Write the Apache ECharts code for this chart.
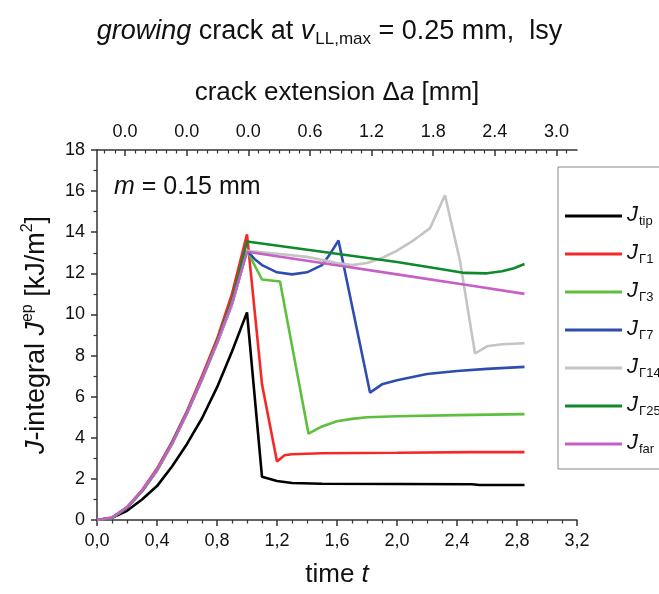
<!DOCTYPE html>
<html>
<head>
    <meta charset="utf-8" />
    <title>J-integral, growing crack</title>
    <script src="https://cdn.jsdelivr.net/npm/echarts@6/dist/echarts.min.js"></script>
    <style>
        html, body { margin: 0; padding: 0; background: #fff; }
        #divChart { width: 659px; height: 594px; }
    </style>
</head>
<body>
    <div id="divChart"></div>
    <script>
        // tick labels
        let xTickLabels = ['0,0', '0,4', '0,8', '1,2', '1,6', '2,0', '2,4', '2,8', '3,2'];
        // crack extension axis (top): tick positions in time units + labels
        let topTickT = [0.187, 0.598, 1.009, 1.42, 1.83, 2.241, 2.652, 3.063];
        let topTickLabels = ['0.0', '0.0', '0.0', '0.6', '1.2', '1.8', '2.4', '3.0'];

        // J_tip
        let tTip = [0, 0.1, 0.2, 0.3, 0.4, 0.5, 0.6, 0.7, 0.8, 0.9, 1.0, 1.1, 1.2, 1.3, 1.5, 2.0, 2.5, 2.55, 2.85];
        let jTip = [0, 0.1, 0.45, 1.0, 1.65, 2.6, 3.7, 4.95, 6.45, 8.2, 10.1, 2.1, 1.9, 1.8, 1.76, 1.75, 1.74, 1.7, 1.7];
        // J_G1
        let tG1 = [0, 0.1, 0.2, 0.3, 0.4, 0.5, 0.6, 0.7, 0.8, 0.9, 1.0, 1.1, 1.2, 1.25, 1.3, 1.5, 2.0, 2.5, 2.85];
        let jG1 = [0, 0.12, 0.62, 1.45, 2.5, 3.8, 5.3, 7.0, 8.8, 11.0, 13.9, 6.6, 2.85, 3.15, 3.2, 3.25, 3.27, 3.3, 3.3];
        // J_G3
        let tG3 = [0, 0.1, 0.2, 0.3, 0.4, 0.5, 0.6, 0.7, 0.8, 0.9, 1.0, 1.1, 1.22, 1.41, 1.5, 1.6, 1.7, 1.8, 2.0, 2.4, 2.85];
        let jG3 = [0, 0.1, 0.6, 1.4, 2.4, 3.7, 5.2, 6.85, 8.6, 10.5, 13.1, 11.7, 11.6, 4.2, 4.55, 4.8, 4.92, 5.0, 5.05, 5.1, 5.15];
        // J_G7
        let tG7 = [0, 0.1, 0.2, 0.3, 0.4, 0.5, 0.6, 0.7, 0.8, 0.9, 1.0, 1.05, 1.1, 1.2, 1.3, 1.4, 1.5, 1.55, 1.61, 1.82, 1.9, 2.0, 2.2, 2.4, 2.6, 2.85];
        let jG7 = [0, 0.1, 0.6, 1.4, 2.4, 3.7, 5.2, 6.85, 8.6, 10.5, 13.1, 12.7, 12.4, 12.05, 11.95, 12.05, 12.4, 12.9, 13.6, 6.2, 6.6, 6.8, 7.1, 7.25, 7.35, 7.45];
        // J_G14
        let tG14 = [0, 0.1, 0.2, 0.3, 0.4, 0.5, 0.6, 0.7, 0.8, 0.9, 1.0, 1.2, 1.4, 1.6, 1.7, 1.8, 1.9, 2.0, 2.1, 2.22, 2.32, 2.42, 2.52, 2.6, 2.7, 2.85];
        let jG14 = [0, 0.1, 0.6, 1.4, 2.4, 3.7, 5.2, 6.85, 8.6, 10.5, 13.1, 12.95, 12.8, 12.5, 12.4, 12.5, 12.75, 13.1, 13.55, 14.2, 15.8, 12.6, 8.1, 8.45, 8.55, 8.6];
        // J_G25
        let tG25 = [0, 0.1, 0.2, 0.3, 0.4, 0.5, 0.6, 0.7, 0.8, 0.9, 1.0, 1.5, 2.0, 2.3, 2.45, 2.6, 2.7, 2.78, 2.85];
        let jG25 = [0, 0.1, 0.6, 1.4, 2.45, 3.75, 5.25, 6.9, 8.7, 10.7, 13.55, 13.05, 12.55, 12.2, 12.02, 12.0, 12.1, 12.25, 12.45];
        // J_far
        let tFar = [0, 0.1, 0.2, 0.3, 0.4, 0.5, 0.6, 0.7, 0.8, 0.9, 1.0, 1.5, 2.0, 2.5, 2.85];
        let jFar = [0, 0.12, 0.62, 1.42, 2.45, 3.72, 5.22, 6.88, 8.62, 10.55, 13.05, 12.5, 11.95, 11.4, 11.0];

        let seriesNames = ['tip', 'Γ1', 'Γ3', 'Γ7', 'Γ14', 'Γ25', 'far'];
        let seriesColors = ['#000000', '#f52828', '#5dbf3d', '#2f4db0', '#c4c4c4', '#0e8a2c', '#c660c6'];
        let seriesT = [tTip, tG1, tG3, tG7, tG14, tG25, tFar];
        let seriesJ = [jTip, jG1, jG3, jG7, jG14, jG25, jFar];

        let font = "'Liberation Sans', Arial, sans-serif";
        let axisColor = '#333';

        // minor ticks of the top axis: 5 between the labelled ticks
        let topMinorT = [];
        let step = (topTickT[1] - topTickT[0]) / 6;
        for (let v = topTickT[0] - step; v > 0; v -= step) topMinorT.push(v);
        for (let i = 0; i < topTickT.length; i++) {
            for (let k = 1; k < 6; k++) {
                let v = topTickT[i] + k * step;
                if (v < 3.2) topMinorT.push(v);
            }
        }

        function InitChart() {
            let series = seriesNames.map(function (n, i) {
                return {
                    name: n,
                    type: 'line',
                    xAxisIndex: 0,
                    symbol: 'none',
                    showSymbol: false,
                    lineStyle: { width: 2.6, color: seriesColors[i] },
                    itemStyle: { color: seriesColors[i] },
                    data: seriesT[i].map(function (t, k) { return [t, seriesJ[i][k]]; })
                };
            });

            let option = {
                backgroundColor: '#fff',
                animation: false,
                textStyle: { fontFamily: font, color: '#111' },
                title: {
                    left: 'center',
                    top: 13,
                    text: '{i|growing}{n| crack at }{i|v}{s|LL,max}{n| = 0.25 mm,  lsy}',
                    textStyle: {
                        fontFamily: font,
                        fontWeight: 'normal',
                        rich: {
                            n: { fontFamily: font, fontSize: 27, color: '#111', lineHeight: 30, verticalAlign: 'top' },
                            i: { fontFamily: font, fontSize: 27, color: '#111', fontStyle: 'italic', lineHeight: 30, verticalAlign: 'top' },
                            s: { fontFamily: font, fontSize: 17, color: '#111', lineHeight: 18, padding: [17, 0, 0, 1], verticalAlign: 'bottom' }
                        }
                    }
                },
                grid: { left: 97, top: 150, width: 480, height: 370 },
                legend: {
                    orient: 'vertical',
                    left: 558,
                    top: 167,
                    padding: [30, 60, 13, 7],
                    icon: 'rect',
                    itemWidth: 57,
                    itemHeight: 3,
                    itemGap: 7,
                    backgroundColor: '#fff',
                    borderColor: '#888',
                    borderWidth: 1,
                    data: seriesNames,
                    formatter: function (n) { return '{j|J}{s|' + n + '}'; },
                    textStyle: {
                        rich: {
                            j: { fontFamily: font, fontSize: 22, fontStyle: 'italic', color: '#111', lineHeight: 24, verticalAlign: 'top' },
                            s: { fontFamily: font, fontSize: 13, color: '#111', lineHeight: 14, padding: [18, 0, 0, 1], verticalAlign: 'bottom' }
                        }
                    }
                },
                xAxis: [{
                    type: 'value',
                    position: 'bottom',
                    min: 0,
                    max: 3.2,
                    interval: 0.4,
                    name: '{n|time }{i|t}',
                    nameLocation: 'middle',
                    nameGap: 42,
                    nameTextStyle: {
                        rich: {
                            n: { fontFamily: font, fontSize: 26, color: '#111' },
                            i: { fontFamily: font, fontSize: 26, color: '#111', fontStyle: 'italic' }
                        }
                    },
                    axisLine: { lineStyle: { color: axisColor, width: 1.5 } },
                    axisTick: { length: 6, lineStyle: { color: axisColor, width: 1.5 } },
                    minorTick: { show: true, splitNumber: 4, length: 3.5, lineStyle: { color: axisColor, width: 1.2 } },
                    splitLine: { show: false },
                    axisLabel: {
                        margin: 12,
                        fontSize: 18,
                        color: '#111',
                        fontFamily: font,
                        formatter: function (v) { return xTickLabels[Math.round(v / 0.4)]; }
                    }
                }, {
                    type: 'value',
                    position: 'top',
                    min: 0,
                    max: 3.2,
                    name: '{n|crack extension Δ}{i|a}{n| [mm]}',
                    nameLocation: 'middle',
                    nameGap: 44,
                    nameTextStyle: {
                        rich: {
                            n: { fontFamily: font, fontSize: 26, color: '#111' },
                            i: { fontFamily: font, fontSize: 26, color: '#111', fontStyle: 'italic' }
                        }
                    },
                    axisLine: { lineStyle: { color: axisColor, width: 1.5 } },
                    axisTick: { inside: true, length: 6, customValues: topTickT, lineStyle: { color: axisColor, width: 1.5 } },
                    splitLine: { show: false },
                    axisLabel: {
                        margin: 9,
                        fontSize: 18,
                        color: '#111',
                        fontFamily: font,
                        customValues: topTickT,
                        formatter: function (v) {
                            let i = topTickT.findIndex(function (x) { return Math.abs(x - v) < 1e-6; });
                            return i >= 0 ? topTickLabels[i] : '';
                        }
                    }
                }, {
                    type: 'value',
                    position: 'top',
                    min: 0,
                    max: 3.2,
                    axisLine: { show: false },
                    axisTick: { inside: true, length: 3.5, customValues: topMinorT, lineStyle: { color: axisColor, width: 1.2 } },
                    splitLine: { show: false },
                    axisLabel: { show: false }
                }],
                yAxis: [{
                    type: 'value',
                    min: 0,
                    max: 18,
                    interval: 2,
                    name: '{i|J}{n|-integral }{i|J}{p|ep}{n| [kJ/m}{p|2}{n|]}',
                    nameLocation: 'middle',
                    nameGap: 47,
                    nameTextStyle: {
                        rich: {
                            n: { fontFamily: font, fontSize: 27, color: '#111', lineHeight: 30, padding: [3, 0, 0, 0], verticalAlign: 'bottom' },
                            i: { fontFamily: font, fontSize: 27, color: '#111', fontStyle: 'italic', lineHeight: 30, padding: [3, 0, 0, 0], verticalAlign: 'bottom' },
                            p: { fontFamily: font, fontSize: 16, color: '#111', lineHeight: 16, verticalAlign: 'top' }
                        }
                    },
                    axisLine: { show: true, lineStyle: { color: axisColor, width: 1.5 } },
                    axisTick: { show: true, length: 6, lineStyle: { color: axisColor, width: 1.5 } },
                    minorTick: { show: true, splitNumber: 2, length: 3.5, lineStyle: { color: axisColor, width: 1.2 } },
                    splitLine: { show: false },
                    axisLabel: { margin: 12, fontSize: 18, color: '#111', fontFamily: font }
                }],
                graphic: [{
                    type: 'text',
                    left: 114,
                    top: 175,
                    style: {
                        text: '{i|m}{n| = 0.15 mm}',
                        rich: {
                            n: { fontFamily: font, fontSize: 25, fill: '#111' },
                            i: { fontFamily: font, fontSize: 25, fill: '#111', fontStyle: 'italic' }
                        }
                    }
                }],
                series: series
            };
            echarts.init(document.getElementById('divChart')).setOption(option);
        }

        InitChart();
    </script>
</body>
</html>
